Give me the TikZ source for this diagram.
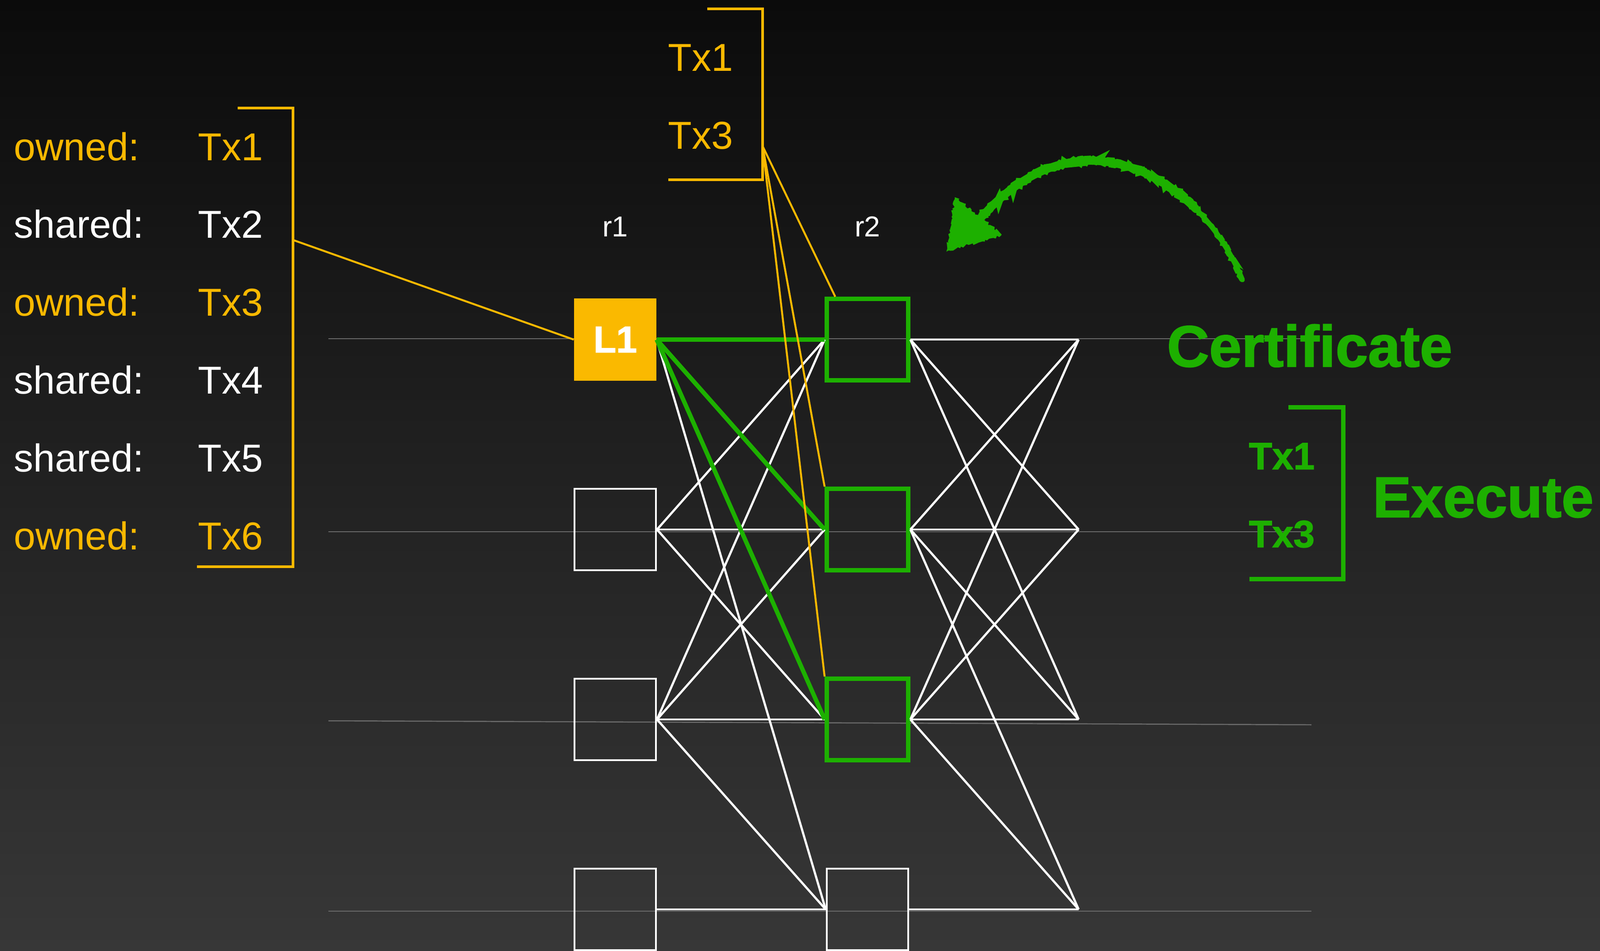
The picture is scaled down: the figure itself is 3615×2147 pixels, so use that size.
\documentclass[tikz,border=0pt]{standalone}
\usepackage{fontspec}
\setmainfont{Liberation Sans}
\newfontfamily\heavyfont{Liberation Sans}[BoldFeatures={FakeBold=1.6}]
\usetikzlibrary{calc, arrows.meta, decorations.pathmorphing}

\begin{document}
\begin{tikzpicture}[x=0.1mm, y=-0.1mm,
    replica/.style={draw=white, line width=1.4pt, minimum size=18.4mm, inner sep=0pt},
    certified/.style={replica, draw=certColour, line width=2.8pt},
    leader/.style={fill=ownedColour, minimum size=18.6mm, inner sep=0pt, text=white, font=\fontsize{24}{24}\selectfont\heavyfont\bfseries},
    vote/.style={white, line width=1.4pt},
    certVote/.style={certColour, line width=2.8pt},
    lane/.style={laneColour, line width=0.7pt},
    ownedLink/.style={ownedColour, line width=1.25pt},
    ownedBracket/.style={ownedColour, line width=1.5pt},
    listText/.style={inner sep=0pt, font=\fontsize{25}{30}\selectfont},
    roundText/.style={inner sep=0pt, text=white, font=\fontsize{18.5}{22}\selectfont},
    headText/.style={inner sep=0pt, text=certColour, font=\fontsize{37.5}{45}\selectfont\heavyfont\bfseries},
    execTxText/.style={inner sep=0pt, text=certColour, font=\fontsize{24.5}{30}\selectfont\heavyfont\bfseries},
    chalk/.style={decorate, decoration={random steps, segment length=1.2pt, amplitude=0.9pt}}]

    \definecolor{ownedColour}{HTML}{FAB900}
    \definecolor{certColour}{HTML}{1DB000}
    \definecolor{laneColour}{HTML}{6B6B6B}
    \definecolor{topColour}{HTML}{0B0B0B}
    \definecolor{bottomColour}{HTML}{373737}

    % Background
    \useasboundingbox (0,0) rectangle (3615,2147);
    \shade[top color=topColour, bottom color=bottomColour] (0,0) rectangle (3615,2147);

    % Draw the lanes of the replicas
    \draw[lane] (742,765) -- (2963,765);
    \draw[lane] (742,1201) -- (2963,1201);
    \draw[lane] (742,1628) -- (2963,1637);
    \draw[lane] (742,2058) -- (2963,2058);

    % Round labels
    \node[roundText, anchor=base] (round1) at (1390,534) {r1};
    \node[roundText, anchor=base] (round2) at (1960,534) {r2};

    % Blocks of round 1 and round 2
    \node[leader] (c1r1) at (1390,767) {\raisebox{-0.8mm}{L1}};
    \foreach \r/\y in {2/1196,3/1625,4/2054}
        \node[replica] (c1r\r) at (1390,\y) {};
    \foreach \r/\y in {1/767,2/1196,3/1625}
        \node[certified] (c2r\r) at (1960,\y) {};
    \node[replica] (c2r4) at (1960,2054) {};
    \foreach \r/\y in {1/767,2/1196,3/1625,4/2054}
        \coordinate (c3r\r) at (2437,\y);

    % Votes from round 1 to round 2
    \foreach \a/\b in {1/4,2/1,2/2,2/3,3/1,3/2,3/3,3/4,4/4}
        \draw[vote] (c1r\a.east) -- (c2r\b.west);
    \foreach \b in {1,2,3}
        \draw[certVote] (c1r1.east) -- (c2r\b.west);

    % Votes from round 2 onwards
    \foreach \a/\b in {1/1,1/2,1/3,2/1,2/2,2/3,2/4,3/1,3/2,3/3,3/4,4/4}
        \draw[vote] (c2r\a.east) -- (c3r\b);

    % Transactions of the leader
    \foreach \i/\kind/\tx/\col in {1/owned/Tx1/ownedColour, 2/shared/Tx2/white, 3/owned/Tx3/ownedColour, 4/shared/Tx4/white, 5/shared/Tx5/white, 6/owned/Tx6/ownedColour}
    {
        \node[listText, text=\col, anchor=base west] (kind\i) at (31,{362+(\i-1)*175.8}) {\kind:};
        \node[listText, text=\col, anchor=base] (tx\i) at (521,{362+(\i-1)*175.8}) {\tx};
    }
    \draw[ownedBracket] (537,244) -- (662,244) -- (662,1280) -- (445,1280);
    \coordinate (ownedTap) at (662,542);
    \draw[ownedLink] (ownedTap) -- (c1r1.west);

    % Owned transactions certified in round 2
    \node[listText, text=ownedColour, anchor=base] (fastTx1) at (1583,160) {Tx1};
    \node[listText, text=ownedColour, anchor=base] (fastTx3) at (1583,336) {Tx3};
    \draw[ownedBracket] (1598,20) -- (1723,20) -- (1723,406) -- (1510,406);
    \coordinate (fastTap) at (1723,330);
    \draw[ownedLink] (fastTap) -- ($(c2r1.north west)+(24,0)$);
    \draw[ownedLink] (fastTap) -- (c2r2.north west);
    \draw[ownedLink] (fastTap) -- (c2r3.north west);

    % Certificate and execution
    \node[headText, anchor=base west] (certText) at (2636,828) {Certificate};
    \node[execTxText, anchor=base] (execTx1) at (2896,1060) {Tx1};
    \node[execTxText, anchor=base] (execTx3) at (2896,1236) {Tx3};
    \draw[certColour, line width=2.8pt] (2911,920) -- (3035,920) -- (3035,1308) -- (2823,1308);
    \node[headText, anchor=base west, font=\fontsize{37}{45}\selectfont\heavyfont\bfseries] (execText) at (3101,1168) {Execute};

    % Hand drawn arrow
    \coordinate (arcTail) at (2807,632);
    \coordinate (arcBend) at (2702,472);
    \coordinate (arcTop) at (2467,363);
    \coordinate (arcEnd) at (2205,505);
    \draw[certColour, line width=3.2pt, line cap=round] (arcTail) .. controls (2782,571) and (2746,516) .. (arcBend);
    \draw[certColour, line width=3.2pt, chalk] (arcTail) .. controls (2782,571) and (2746,516) .. (arcBend);
    \draw[certColour, line width=5.2pt, line cap=round] (arcBend) .. controls (2636,406) and (2553,364) .. (arcTop)
        .. controls (2370,361) and (2280,415) .. (arcEnd);
    \draw[certColour, line width=5pt, chalk] (arcBend) .. controls (2636,406) and (2553,364) .. (arcTop)
        .. controls (2370,361) and (2280,415) .. (arcEnd);
    \filldraw[certColour, line width=1pt, chalk] (2159,448) -- (2141,565) -- (2261,530) -- cycle;

\end{tikzpicture}
\end{document}
